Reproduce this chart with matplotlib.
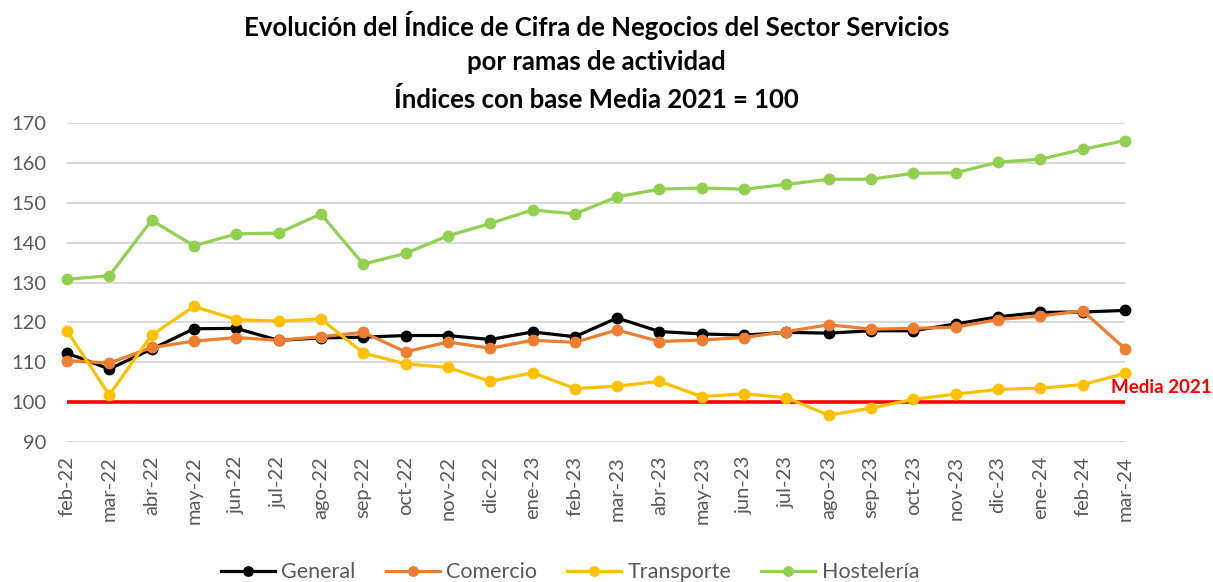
import matplotlib
matplotlib.use("Agg")
import matplotlib.pyplot as plt

# ---------------------------------------------------------------------------
# Datos
# ---------------------------------------------------------------------------
meses = ["feb-22", "mar-22", "abr-22", "may-22", "jun-22", "jul-22", "ago-22",
         "sep-22", "oct-22", "nov-22", "dic-22", "ene-23", "feb-23", "mar-23",
         "abr-23", "may-23", "jun-23", "jul-23", "ago-23", "sep-23", "oct-23",
         "nov-23", "dic-23", "ene-24", "feb-24", "mar-24"]

general = [112.3, 108.3, 113.3, 118.4, 118.5, 115.5, 116.1, 116.3, 116.7,
           116.7, 115.7, 117.6, 116.4, 121.1, 117.7, 117.1, 116.8, 117.5,
           117.3, 117.9, 117.9, 119.6, 121.4, 122.5, 122.6, 123.0]
comercio = [110.4, 109.8, 113.7, 115.3, 116.2, 115.5, 116.4, 117.5, 112.6,
            115.1, 113.5, 115.5, 115.0, 118.1, 115.2, 115.6, 116.2, 117.7,
            119.4, 118.3, 118.5, 118.8, 120.7, 121.6, 122.9, 113.4]
transporte = [117.9, 101.8, 116.8, 124.0, 120.7, 120.3, 120.9, 112.3, 109.6,
              108.7, 105.2, 107.4, 103.4, 104.0, 105.2, 101.4, 102.1, 101.1,
              96.7, 98.5, 100.7, 102.0, 103.2, 103.5, 104.4, 107.2]
hosteleria = [130.8, 131.7, 145.6, 139.2, 142.2, 142.4, 147.2, 134.6, 137.3,
              141.7, 144.8, 148.2, 147.2, 151.5, 153.4, 153.7, 153.4, 154.6,
              155.9, 155.9, 157.4, 157.5, 160.2, 160.9, 163.4, 165.6]
media_2021 = 100

series = [
    ("General", general, "#000000"),
    ("Comercio", comercio, "#ED7D31"),
    ("Transporte", transporte, "#FFC000"),
    ("Hostelería", hosteleria, "#92D050"),
]

FONT = ["Lato", "DejaVu Sans"]
GRIS_TEXTO = "#595959"
GRIS_GRID = "#D9D9D9"

fig = plt.figure(figsize=(12.13, 5.82), dpi=100)
ax = fig.add_axes([67 / 1213, 1 - 442 / 582, (1125 - 67) / 1213, (442 - 123) / 582])

x = list(range(len(meses)))

# línea de referencia Media 2021
ax.plot([x[0], x[-1]], [media_2021, media_2021], color="#FF0000", linewidth=2.6,
        solid_capstyle="butt", zorder=2, clip_on=False)

for nombre, valores, color in series:
    ax.plot(x, valores, color=color, linewidth=2.3, marker="o", markersize=7.5,
            label=nombre, zorder=3, clip_on=False)

ax.text(x[-1] + 0.85, media_2021 + 3.7, "Media 2021", color="#FF0000",
        fontsize=13.5, fontweight="bold", ha="center", va="center", family=FONT)

ax.set_xlim(x[0], x[-1])
ax.set_ylim(90, 170)
ax.set_yticks(range(90, 171, 10))
ax.set_xticks(x)
ax.set_xticklabels(meses, rotation=90, fontsize=14.5, color=GRIS_TEXTO, family=FONT)
for lbl in ax.get_yticklabels():
    lbl.set_fontsize(14.5)
    lbl.set_color(GRIS_TEXTO)
    lbl.set_family(FONT)
ax.tick_params(axis="both", length=0)
ax.tick_params(axis="x", pad=10)
ax.tick_params(axis="y", pad=15)
ax.grid(axis="y", color=GRIS_GRID, linewidth=1.4)
ax.set_axisbelow(True)
for s in ax.spines.values():
    s.set_visible(False)

titulo = ["Evolución del Índice de Cifra de Negocios del Sector Servicios",
          "por ramas de actividad",
          "Índices con base Media 2021 = 100"]
for i, linea in enumerate(titulo):
    fig.text(0.492, 1 - (25 + 37 * i) / 582, linea, ha="center", va="center",
             fontsize=18.5, fontweight="bold", family=FONT)

leg = fig.legend(loc="center", bbox_to_anchor=(0.470, 0.017), ncol=4, frameon=False,
                 prop={"family": FONT, "size": 15.5}, handlelength=2.5,
                 columnspacing=1.4, handletextpad=0.3, markerscale=0.9)
for t in leg.get_texts():
    t.set_color(GRIS_TEXTO)

fig.savefig("out.png", dpi=100)
